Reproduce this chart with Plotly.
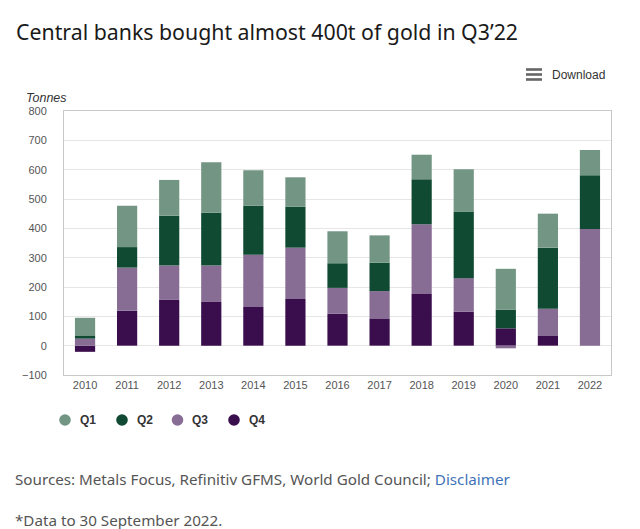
import plotly.graph_objects as go

years = ["2010", "2011", "2012", "2013", "2014", "2015", "2016", "2017",
         "2018", "2019", "2020", "2021", "2022"]
q1 = [60, 141, 122, 172, 121, 100, 109, 93, 84, 144, 139, 116, 86]
q2 = [11, 70, 170, 180, 167, 140, 84, 97, 153, 227, 64, 208, 183]
q3 = [24, 147, 117, 124, 178, 175, 88, 93, 238, 114, -9, 91, 398]
q4 = [-21, 119, 156, 149, 132, 159, 109, 93, 176, 116, 59, 35, None]
y_ticks = [-100, 0, 100, 200, 300, 400, 500, 600, 700, 800]
legend_names = ["Q1", "Q2", "Q3", "Q4"]

W, H = 640, 529
L, R, T, B = 64, 29, 111, 154
PW, PH = W - L - R, H - T - B


def px(x):
    return (x - L) / PW


def py(y):
    return (H - B - y) / PH


colors = {"Q1": "#739684", "Q2": "#104a33", "Q3": "#876c94", "Q4": "#3a0e4c"}
series = [("Q4", q4), ("Q3", q3), ("Q2", q2), ("Q1", q1)]

fig = go.Figure()
for name, vals in series:
    fig.add_trace(go.Bar(x=years, y=vals, name=name, marker_color=colors[name],
                         marker_line_width=0, showlegend=False))

axis_font = dict(family="Liberation Sans, Arial", size=11, color="#555555")
fig.update_layout(
    width=W, height=H,
    margin=dict(l=L, r=R, t=T, b=B),
    barmode="relative", bargap=0.52,
    paper_bgcolor="white", plot_bgcolor="white",
    xaxis=dict(type="category", tickfont=axis_font, showgrid=False,
               showline=True, linecolor="#c8c8c8", linewidth=1, mirror=True,
               ticks="", ticklen=0),
    yaxis=dict(range=[-100, 800], tickvals=y_ticks, tickfont=axis_font,
               showgrid=True, gridcolor="#e6e6e6", gridwidth=1,
               zeroline=True, zerolinecolor="#e6e6e6", zerolinewidth=1,
               showline=True, linecolor="#c8c8c8", linewidth=1, mirror=True,
               ticks="", ticklabelstandoff=14),
    showlegend=False,
    font=dict(family="Liberation Sans, Arial"),
)

ann = []
shapes = []
ann.append(dict(text="Central banks bought almost 400t of gold in Q3’22",
                x=px(14), y=py(31), xref="paper", yref="paper",
                xanchor="left", yanchor="middle", showarrow=False,
                font=dict(family="Noto Sans", size=21.3, color="#1a1a1a")))
ann.append(dict(text="Download", x=px(550), y=py(75), xref="paper", yref="paper",
                xanchor="left", yanchor="middle", showarrow=False,
                font=dict(family="Liberation Sans, Arial", size=12, color="#333333")))
ann.append(dict(text="<i>Tonnes</i>", x=px(24), y=py(98), xref="paper", yref="paper",
                xanchor="left", yanchor="middle", showarrow=False,
                font=dict(family="Liberation Sans, Arial", size=12.5, color="#333333")))
ann.append(dict(text="Sources: Metals Focus, Refinitiv GFMS, World Gold Council; "
                     "<span style='color:#3f73b8'>Disclaimer</span>",
                x=px(13), y=py(479), xref="paper", yref="paper",
                xanchor="left", yanchor="middle", showarrow=False,
                font=dict(family="Noto Sans", size=15.2, color="#555555")))
ann.append(dict(text="*Data to 30 September 2022.",
                x=px(13), y=py(520), xref="paper", yref="paper",
                xanchor="left", yanchor="middle", showarrow=False,
                font=dict(family="Noto Sans", size=15.2, color="#555555")))

# custom legend with round markers
leg_x = [65, 122, 177.5, 234]
leg_y = 420
for name, cx in zip(legend_names, leg_x):
    shapes.append(dict(type="circle", xref="paper", yref="paper",
                       x0=px(cx - 5.8), x1=px(cx + 5.8),
                       y0=py(leg_y + 5.8), y1=py(leg_y - 5.8),
                       fillcolor=colors[name], line_width=0))
    ann.append(dict(text="<b>" + name + "</b>", x=px(cx + 12.5), y=py(leg_y),
                    xref="paper", yref="paper", xanchor="left", yanchor="middle",
                    showarrow=False,
                    font=dict(family="Liberation Sans, Arial", size=12, color="#333333")))

# hamburger icon for the Download button
for yy in (69.5, 74.5, 79.5):
    shapes.append(dict(type="rect", xref="paper", yref="paper",
                       x0=px(526), x1=px(542), y0=py(yy - 1.3), y1=py(yy + 1.3),
                       fillcolor="#666666", line_width=0))
fig.update_layout(annotations=ann, shapes=shapes)

fig.write_html("out.html", config={"displayModeBar": False},
               post_script="document.body.style.margin='0';")
